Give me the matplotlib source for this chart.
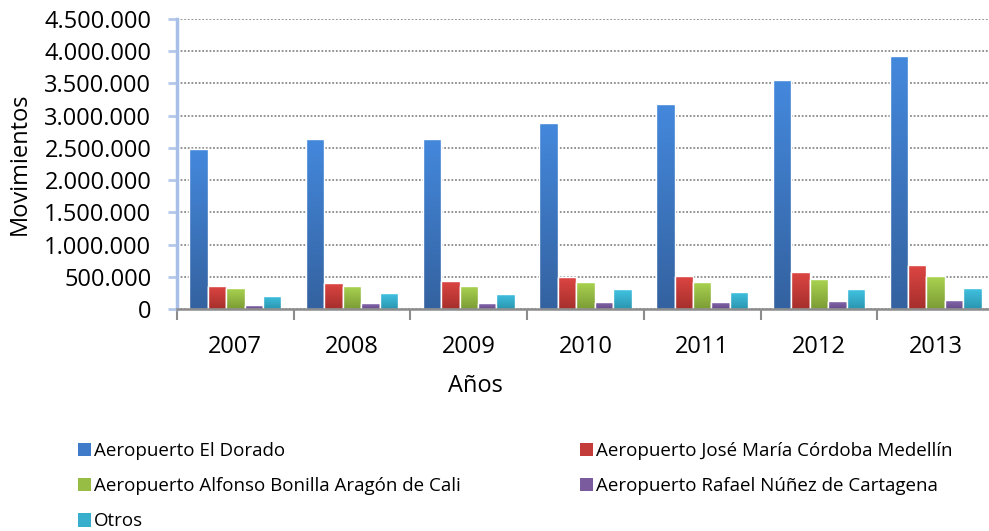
import numpy as np
import matplotlib.pyplot as plt
from matplotlib.colors import LinearSegmentedColormap
from matplotlib.patches import Patch
from matplotlib.ticker import FuncFormatter, MultipleLocator

plt.rcParams['font.family'] = ['Open Sans', 'DejaVu Sans']

# datos
years = ["2007", "2008", "2009", "2010", "2011", "2012", "2013"]
el_dorado = [2480000, 2640000, 2640000, 2890000, 3180000, 3550000, 3925000]
medellin = [362000, 408000, 440000, 500000, 517000, 580000, 688000]
cali = [331000, 362000, 362000, 424000, 424000, 470000, 517000]
cartagena = [62000, 93000, 93000, 109000, 109000, 129000, 144000]
otros = [202000, 248000, 233000, 310000, 264000, 310000, 326000]

series = [el_dorado, medellin, cali, cartagena, otros]
names = ["Aeropuerto El Dorado", "Aeropuerto José María Córdoba Medellín",
         "Aeropuerto Alfonso Bonilla Aragón de Cali",
         "Aeropuerto Rafael Núñez de Cartagena", "Otros"]
# (arriba, abajo) del degradado
grad = [("#4488DC", "#3462A0"), ("#DE4643", "#A62F2C"), ("#ABD551", "#7C9C35"),
        ("#8869B0", "#674C8A"), ("#41C3E3", "#2B96B0")]
flat = ["#3F7BC8", "#C43C39", "#97BD45", "#7A5C9E", "#37AFCC"]

fig = plt.figure(figsize=(9.89, 5.31), dpi=100)
ax = fig.add_axes([177/989, 1-309/531, 817/989, 290/531])

bw = 0.158
x = np.arange(len(years)) + 0.5
for k, vals in enumerate(series):
    bars = ax.bar(x + (k-2)*bw, vals, width=bw, color=flat[k],
                  edgecolor="white", linewidth=1.0, zorder=3 + k*0.01)
    cmap = LinearSegmentedColormap.from_list("g%d" % k, [grad[k][1], grad[k][0]])
    g = np.linspace(0, 1, 64).reshape(-1, 1)
    for b in bars:
        x0, w, h = b.get_x(), b.get_width(), b.get_height()
        im = ax.imshow(g, cmap=cmap, origin="lower", aspect="auto",
                       extent=(x0, x0+w, 0, h), zorder=3 + k*0.01 + 0.001,
                       interpolation="bilinear")
        im.set_clip_path(b)
    # borde blanco encima del degradado
    ax.bar(x + (k-2)*bw, vals, width=bw, color="none", edgecolor="white",
           linewidth=1.0, zorder=3 + k*0.01 + 0.002)

ax.set_xlim(0, 7)
ax.set_ylim(0, 4500000)

ax.yaxis.set_major_locator(MultipleLocator(500000))
ax.yaxis.set_major_formatter(FuncFormatter(lambda v, p: f"{v:,.0f}".replace(",", ".")))
ax.set_xticks(x)
ax.set_xticklabels(years)
ax.set_xticks(np.arange(0, 8), minor=True)
ax.tick_params(axis="x", which="major", length=0, labelsize=17, pad=19)
ax.tick_params(axis="x", which="minor", length=8, width=1.5, color="#8C8C8C",
               direction="out")
ax.tick_params(axis="y", length=6.5, width=2, color="#B4C8EA", labelsize=17,
               pad=12)

ax.grid(axis="y", color="#8A8A8A", linestyle=(0, (1, 1)), linewidth=1.3, zorder=1)
ax.set_axisbelow(True)

for s in ("top", "right"):
    ax.spines[s].set_visible(False)
ax.spines["left"].set_color("#A8C0E8")
ax.spines["left"].set_linewidth(2.5)
ax.spines["bottom"].set_color("#8C8C8C")
ax.spines["bottom"].set_linewidth(1.8)
ax.spines["bottom"].set_zorder(5)

ax.set_ylabel("Movimientos", fontsize=17, va="center")
ax.yaxis.set_label_coords(-157/817, 0.5)
ax.set_xlabel("Años", fontsize=17, va="center")
ax.xaxis.set_label_coords(298/817, -77/290)

handles = [Patch(facecolor=flat[k], edgecolor="none") for k in range(5)]
leg_kw = dict(frameon=False, fontsize=13.5, handlelength=0.7, handleheight=0.7,
              handletextpad=0.17, labelspacing=0.92, loc="upper left",
              borderaxespad=0, borderpad=0)
leg1 = fig.legend([handles[0], handles[2], handles[4]], [names[0], names[2], names[4]],
                  bbox_to_anchor=(78/989, 1-442/531), **leg_kw)
leg2 = fig.legend([handles[1], handles[3]], [names[1], names[3]],
                  bbox_to_anchor=(580/989, 1-442/531), **leg_kw)

fig.savefig("out.png", dpi=100)
